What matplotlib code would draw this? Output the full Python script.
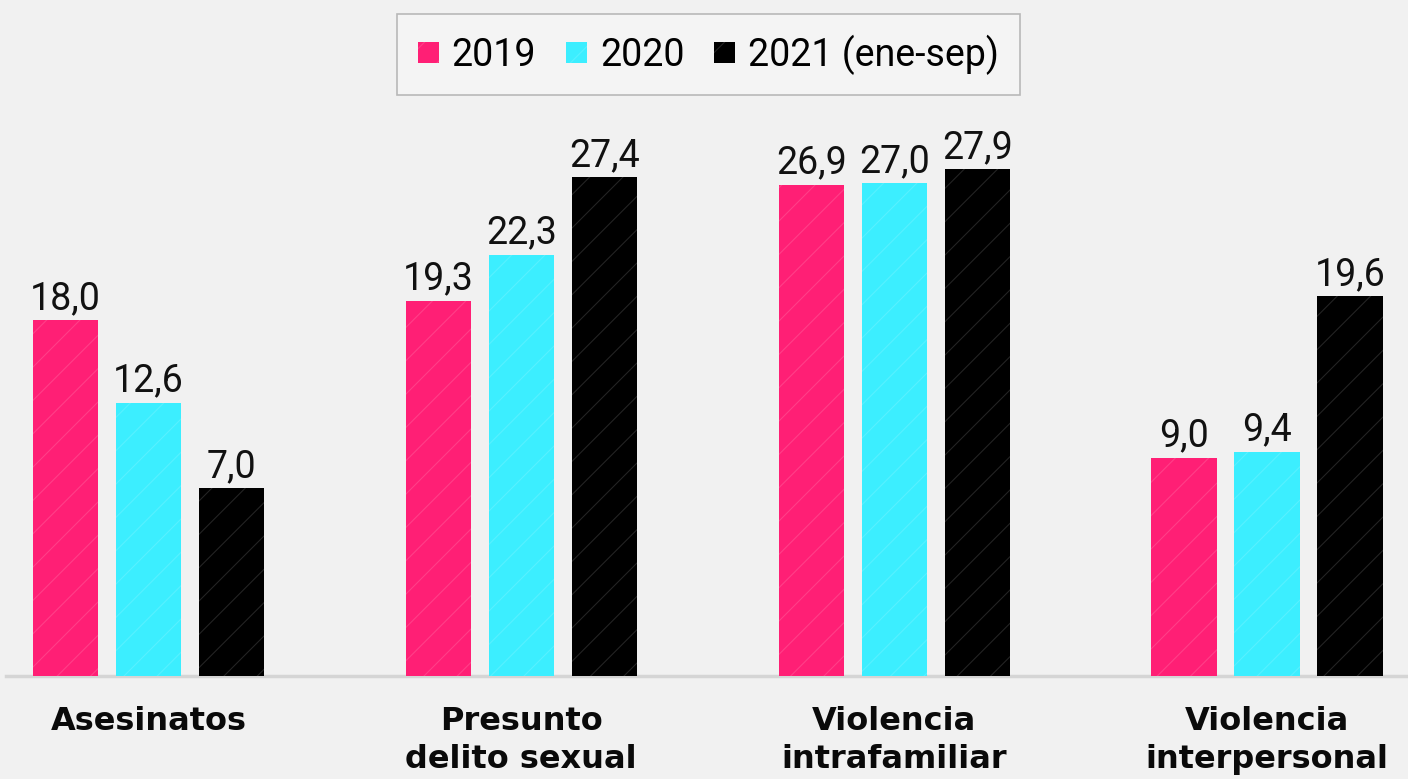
import numpy as np
import matplotlib
matplotlib.use("Agg")
import matplotlib.pyplot as plt
import matplotlib.transforms as mtransforms
from matplotlib.font_manager import FontProperties

# ---- data ----
categories = ["Asesinatos", "Presunto\ndelito sexual",
              "Violencia\nintrafamiliar", "Violencia\ninterpersonal"]
series_names = ["2019", "2020", "2021 (ene-sep)"]
values_2019 = [18.0, 19.3, 26.9, 9.0]
values_2020 = [12.6, 22.3, 27.0, 9.4]
values_2021 = [7.0, 27.4, 27.9, 19.6]

colors = ["#ff1f75", "#3ceeff", "#000000"]
bg = "#f1f1f1"
baseline = -5.3

plt.rcParams['hatch.linewidth'] = 0.8
num_font = FontProperties(family=['Roboto', 'DejaVu Sans'], size=27, weight='normal')

fig = plt.figure(figsize=(14.08, 7.79), dpi=100, facecolor=bg)
ax = fig.add_axes([0, 1 - 676 / 779, 1, 676 / 779])
ax.set_facecolor('none')

x = np.arange(len(categories))
step = 0.2225
width = 0.175
all_series = [values_2019, values_2020, values_2021]
for i, (vals, name, c) in enumerate(zip(all_series, series_names, colors)):
    xs = x + (i - 1) * step
    h = np.array(vals) - baseline
    ax.bar(xs, h, width, bottom=baseline, color=c, edgecolor=(1, 1, 1, 0.14),
           linewidth=0, hatch='/', label=name, zorder=2)
    for xi, v in zip(xs, vals):
        ax.annotate(f"{v:.1f}".replace('.', ','), (xi, v), xytext=(0, 8.0),
                    textcoords='offset points', ha='center', va='baseline',
                    fontproperties=num_font, color='#111111')

ax.set_xlim(-0.398, 3.378)
ax.set_ylim(baseline, 39.0)
ax.axis('off')
ax.axhline(baseline, xmin=0.004, xmax=1, color='#d5d5d5', lw=2.5, zorder=1, clip_on=False)

trans = mtransforms.blended_transform_factory(ax.transData, fig.transFigure)
for xi, lab in zip(x, categories):
    ax.text(xi, 1 - 706 / 779, lab, transform=trans, ha='center', va='top',
            fontsize=23, fontweight='bold', family='DejaVu Sans',
            linespacing=1.3, color='#0a0a0a', multialignment='center')

leg = fig.legend(loc='center', bbox_to_anchor=(0.5032, 1 - 54.5 / 779), ncol=3,
                 prop=num_font, frameon=True, fancybox=False,
                 edgecolor='#b8b8b8', facecolor='#f4f4f4', framealpha=1,
                 borderpad=0.55, handlelength=0.55, handleheight=0.5,
                 handletextpad=0.35, columnspacing=0.8)
leg.get_frame().set_linewidth(1.2)

fig.savefig("out.png", dpi=100, facecolor=bg)
